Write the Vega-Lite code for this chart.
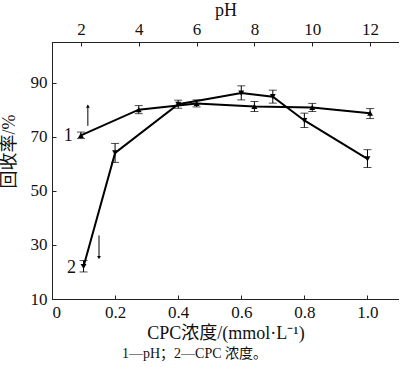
{
  "$schema": "https://vega.github.io/schema/vega-lite/v6.json",
  "width": 347,
  "height": 257,
  "autosize": "none",
  "padding": {"left": 52, "top": 42, "right": 0, "bottom": 70},
  "background": "white",
  "title": {"text": "1—pH；2—CPC 浓度。", "orient": "bottom", "anchor": "middle", "dx": -31, "offset": 5, "fontSize": 14, "fontWeight": "normal", "font": "Liberation Serif, Noto Sans CJK SC", "color": "#111"},
  "datasets": {
    "cpc": [
      {"c": 0.1, "y": 22, "lo": 20, "hi": 24.2},
      {"c": 0.2, "y": 64, "lo": 60.5, "hi": 67.5},
      {"c": 0.4, "y": 82, "lo": 80.5, "hi": 83.5},
      {"c": 0.6, "y": 86.1, "lo": 83.6, "hi": 88.8},
      {"c": 0.7, "y": 84.8, "lo": 82.4, "hi": 87.2},
      {"c": 0.8, "y": 76, "lo": 73.4, "hi": 78.7},
      {"c": 1.0, "y": 61.8, "lo": 58.6, "hi": 65.2}
    ],
    "ph": [
      {"c": 2, "y": 70.5, "lo": 69.3, "hi": 71.7},
      {"c": 4, "y": 80, "lo": 78.5, "hi": 81.5},
      {"c": 6, "y": 82.3, "lo": 81, "hi": 83.6},
      {"c": 8, "y": 81.2, "lo": 79.3, "hi": 83},
      {"c": 10, "y": 80.8, "lo": 79.3, "hi": 82.3},
      {"c": 12, "y": 78.7, "lo": 76.7, "hi": 80.4}
    ]
  },
  "layer": [
    {
      "data": {"name": "cpc"},
      "encoding": {
        "x": {"field": "c", "type": "quantitative", "scale": {"domain": [0, 1.1], "nice": false, "zero": false},
          "axis": {"orient": "bottom", "values": [0, 0.2, 0.4, 0.6, 0.8, 1.0], "labelExpr": "datum.value == 0 ? '0' : format(datum.value, '.1f')", "title": "CPC浓度/(mmol·L⁻¹)", "titlePadding": 4, "labelFont": {"expr": "'Liberation Serif'"}}}
      },
      "layer": [
        {"mark": {"type": "line", "color": "black", "strokeWidth": 2},
          "encoding": {"y": {"field": "y", "type": "quantitative", "scale": {"domain": [10, 105]},
            "axis": {"values": [10, 30, 50, 70, 90], "title": "回收率/%", "titleX": -43, "titleY": 109, "titleAngle": -90, "titleAlign": "center", "titleBaseline": "middle", "labelFont": {"expr": "'Liberation Serif'"}}}}},
        {"mark": {"type": "rule", "color": "black", "strokeWidth": 1},
          "encoding": {"y": {"field": "lo", "type": "quantitative", "scale": {"domain": [10, 105]}, "title": "回收率/%"}, "y2": {"field": "hi"}}},
        {"mark": {"type": "tick", "orient": "horizontal", "color": "black", "thickness": 1, "size": 8},
          "encoding": {"y": {"field": "lo", "type": "quantitative", "scale": {"domain": [10, 105]}, "title": "回收率/%"}}},
        {"mark": {"type": "tick", "orient": "horizontal", "color": "black", "thickness": 1, "size": 8},
          "encoding": {"y": {"field": "hi", "type": "quantitative", "scale": {"domain": [10, 105]}, "title": "回收率/%"}}},
        {"mark": {"type": "point", "shape": "triangle-down", "filled": true, "color": "black", "size": 35, "opacity": 1},
          "encoding": {"y": {"field": "y", "type": "quantitative", "scale": {"domain": [10, 105]}, "title": "回收率/%"}}},
        {"data": {"values": [{"c": 0.062, "y": 21.3, "t": "2"}]},
          "mark": {"type": "text", "fontSize": 18, "font": "Liberation Serif", "color": "#111", "align": "center", "baseline": "middle"},
          "encoding": {"y": {"field": "y", "type": "quantitative", "scale": {"domain": [10, 105]}, "title": "回收率/%"}, "text": {"field": "t"}}},
        {"data": {"values": [{"c": 0.149, "y": 33.5, "y2": 25.5}]},
          "mark": {"type": "rule", "color": "black", "strokeWidth": 1},
          "encoding": {"y": {"field": "y", "type": "quantitative", "scale": {"domain": [10, 105]}, "title": "回收率/%"}, "y2": {"field": "y2"}}},
        {"data": {"values": [{"c": 0.149, "y": 25.3}]},
          "mark": {"type": "point", "shape": "triangle-down", "filled": true, "color": "black", "size": 14, "opacity": 1},
          "encoding": {"y": {"field": "y", "type": "quantitative", "scale": {"domain": [10, 105]}, "title": "回收率/%"}}}
      ]
    },
    {
      "data": {"name": "ph"},
      "encoding": {
        "x": {"field": "c", "type": "quantitative", "scale": {"domain": [1, 13], "nice": false, "zero": false},
          "axis": {"orient": "top", "values": [2, 4, 6, 8, 10, 12], "title": "pH", "titlePadding": 1, "labelPadding": 8, "labelFont": {"expr": "'Liberation Serif'"}}}
      },
      "layer": [
        {"mark": {"type": "line", "color": "black", "strokeWidth": 2},
          "encoding": {"y": {"field": "y", "type": "quantitative", "scale": {"domain": [10, 105]}, "title": "回收率/%"}}},
        {"mark": {"type": "rule", "color": "black", "strokeWidth": 1},
          "encoding": {"y": {"field": "lo", "type": "quantitative", "scale": {"domain": [10, 105]}, "title": "回收率/%"}, "y2": {"field": "hi"}}},
        {"mark": {"type": "tick", "orient": "horizontal", "color": "black", "thickness": 1, "size": 8},
          "encoding": {"y": {"field": "lo", "type": "quantitative", "scale": {"domain": [10, 105]}, "title": "回收率/%"}}},
        {"mark": {"type": "tick", "orient": "horizontal", "color": "black", "thickness": 1, "size": 8},
          "encoding": {"y": {"field": "hi", "type": "quantitative", "scale": {"domain": [10, 105]}, "title": "回收率/%"}}},
        {"mark": {"type": "point", "shape": "triangle-up", "filled": true, "color": "black", "size": 35, "opacity": 1},
          "encoding": {"y": {"field": "y", "type": "quantitative", "scale": {"domain": [10, 105]}, "title": "回收率/%"}}},
        {"data": {"values": [{"c": 1.72, "y": 70.3, "t": "1"}]},
          "mark": {"type": "text", "fontSize": 18, "font": "Liberation Serif", "color": "#111", "align": "right", "baseline": "middle"},
          "encoding": {"y": {"field": "y", "type": "quantitative", "scale": {"domain": [10, 105]}, "title": "回收率/%"}, "text": {"field": "t"}}},
        {"data": {"values": [{"c": 2.24, "y": 74.0, "y2": 81.5}]},
          "mark": {"type": "rule", "color": "black", "strokeWidth": 1},
          "encoding": {"y": {"field": "y", "type": "quantitative", "scale": {"domain": [10, 105]}, "title": "回收率/%"}, "y2": {"field": "y2"}}},
        {"data": {"values": [{"c": 2.24, "y": 81.3}]},
          "mark": {"type": "point", "shape": "triangle-up", "filled": true, "color": "black", "size": 14, "opacity": 1},
          "encoding": {"y": {"field": "y", "type": "quantitative", "scale": {"domain": [10, 105]}, "title": "回收率/%"}}}
      ]
    }
  ],
  "resolve": {"scale": {"x": "independent"}, "axis": {"x": "independent"}},
  "config": {
    "font": "Liberation Serif",
    "view": {"stroke": "#222", "strokeWidth": 1},
    "axis": {
      "grid": false,
      "domainColor": "#222",
      "tickColor": "#222",
      "tickSize": -4,
      "labelPadding": 9,
      "labelFontSize": 17,
      "labelColor": "#111",
      "titleFont": "Liberation Serif, Noto Sans CJK SC",
      "titleFontSize": 18,
      "titleFontWeight": "normal",
      "titleColor": "#111"
    }
  }
}
